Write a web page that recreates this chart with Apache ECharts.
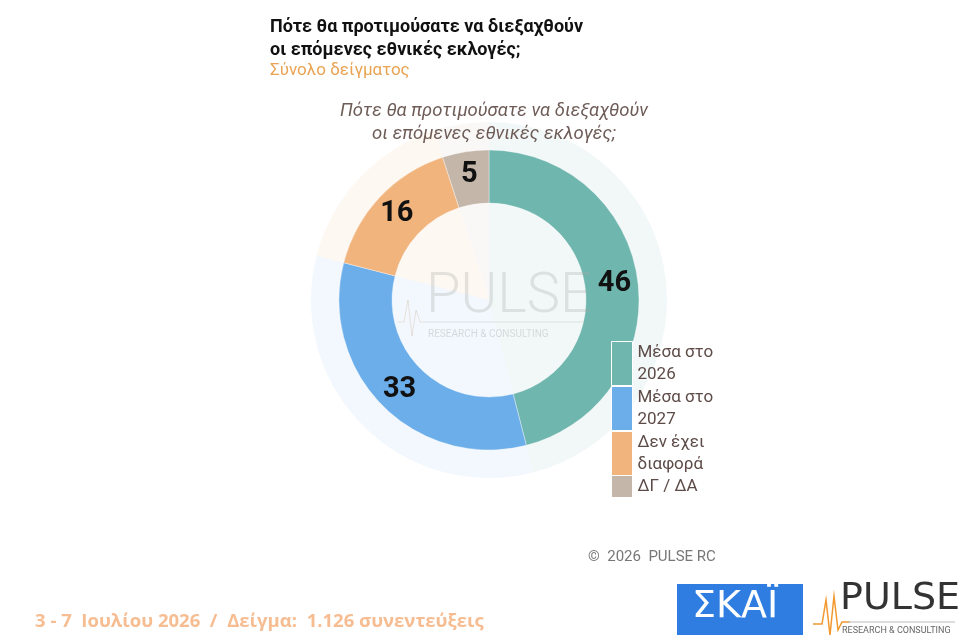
<!DOCTYPE html>
<html>
<head>
<meta charset="utf-8">
<script src="https://cdn.jsdelivr.net/npm/echarts@6/dist/echarts.min.js"></script>
<style>
  html, body { margin: 0; padding: 0; background: #fff; }
  #chart { width: 962px; height: 635px; }
</style>
</head>
<body>
<div id="chart"></div>
<script>
// answers and shares (%)
const categories = ['Μέσα στο\n2026', 'Μέσα στο\n2027', 'Δεν έχει\nδιαφορά', 'ΔΓ / ΔΑ'];
const values = [46, 33, 16, 5];
const colors = ['#6fb6ae', '#6caeea', '#f1b47c', '#c4b6a8'];

const font = 'Roboto, "Noto Sans", sans-serif';

const getPieData = () => categories.map((name, i) => ({
    name: name,
    value: values[i],
    itemStyle: { color: colors[i] }
}));

const legendText = { fontFamily: font, fontSize: 17, color: '#5d4b47', lineHeight: 22 };
const legendItem = n => ({ name: n, itemStyle: { opacity: 1, borderWidth: 1, borderColor: '#ffffff' } });

const getOption = () => {
    return {
        animation: false,
        title: [
            {
                text: 'Πότε θα προτιμούσατε να διεξαχθούν\nοι επόμενες εθνικές εκλογές;',
                left: 265, top: 11,
                textStyle: { fontFamily: font, fontSize: 18, fontWeight: 'bold', color: '#111', lineHeight: 23 }
            },
            {
                text: 'Σύνολο δείγματος',
                left: 265, top: 57,
                textStyle: { fontFamily: font, fontSize: 17, fontWeight: 'normal', color: '#e9a352' }
            },
            {
                text: 'Πότε θα προτιμούσατε να διεξαχθούν\nοι επόμενες εθνικές εκλογές;',
                left: 489, top: 95, textAlign: 'center',
                textStyle: { fontFamily: font, fontSize: 18.5, fontStyle: 'italic', fontWeight: 'normal', color: '#6e5c57', lineHeight: 23, align: 'center' }
            }
        ],
        legend: [
            {
                data: categories.slice(0, 3).map(legendItem),
                orient: 'vertical',
                left: 606, top: 336,
                itemWidth: 21, itemHeight: 44, itemGap: 0,
                icon: 'rect',
                selectedMode: false,
                textStyle: legendText
            },
            {
                data: categories.slice(3).map(legendItem),
                orient: 'vertical',
                left: 606, top: 470,
                itemWidth: 21, itemHeight: 22,
                icon: 'rect',
                selectedMode: false,
                textStyle: legendText
            }
        ],
        series: [
            {
                type: 'pie',
                z: 3,
                center: [489, 300],
                radius: [97, 150],
                startAngle: 90,
                silent: true,
                label: {
                    show: true,
                    position: 'inside',
                    formatter: '{c}',
                    fontFamily: font,
                    fontSize: 29,
                    fontWeight: 'bold',
                    color: '#111'
                },
                labelLine: { show: false },
                itemStyle: { borderColor: 'rgba(255,255,255,0.35)', borderWidth: 1 },
                data: getPieData()
            },
            {
                // pale halo behind the ring
                type: 'pie',
                z: 1,
                center: [489, 300],
                radius: [0, 178],
                startAngle: 90,
                silent: true,
                label: { show: false },
                labelLine: { show: false },
                itemStyle: { opacity: 0.09 },
                data: getPieData()
            }
        ],
        graphic: [
            // watermark
            {
                type: 'text', left: 426, top: 270, silent: true, z: 5,
                style: { text: 'PULSE', font: '300 56px ' + font, fill: 'rgba(170,170,170,0.3)' }
            },
            {
                type: 'line', silent: true, z: 5,
                shape: { x1: 425, y1: 322, x2: 585, y2: 322 },
                style: { stroke: 'rgba(170,170,170,0.3)', lineWidth: 1 }
            },
            {
                type: 'polyline', silent: true, z: 5,
                shape: { points: [[398, 322], [404, 322], [408, 300], [412, 336], [416, 310], [420, 322], [425, 322]] },
                style: { stroke: 'rgba(200,170,140,0.3)', lineWidth: 1, fill: null }
            },
            {
                type: 'text', left: 428, top: 329, silent: true, z: 5,
                style: { text: 'RESEARCH & CONSULTING', font: '10px ' + font, fill: 'rgba(170,170,170,0.4)' }
            },
            // copyright
            {
                type: 'text', left: 588, top: 550,
                style: { text: '©  2026  PULSE RC', font: '15px ' + font, fill: '#777' }
            },
            // footer
            {
                type: 'text', left: 35, top: 612,
                style: { text: '3 - 7  Ιουλίου 2026  /  Δείγμα:  1.126 συνεντεύξεις', font: 'bold 18.5px "Open Sans", ' + font, fill: '#f7bd92' }
            },
            // SKAI logo
            {
                type: 'rect', shape: { x: 677, y: 584, width: 126, height: 51 },
                style: { fill: '#2f7de1' }
            },
            {
                type: 'text', left: 692, top: 588,
                style: { text: 'ΣΚΑΪ', font: '38px "DejaVu Sans", sans-serif', fill: '#fff' }
            },
            // PULSE logo
            {
                type: 'polyline',
                shape: { points: [[813, 624], [822, 624], [826, 600], [830, 635], [834, 596], [838, 630], [842, 622], [850, 622]] },
                style: { stroke: '#f2982f', lineWidth: 1.5, fill: null }
            },
            {
                type: 'text', left: 840, top: 580,
                style: { text: 'PULSE', font: '38px "DejaVu Sans", sans-serif', fill: '#333' }
            },
            {
                type: 'line', shape: { x1: 848, y1: 622, x2: 955, y2: 622 },
                style: { stroke: '#bbb', lineWidth: 1 }
            },
            {
                type: 'text', left: 842, top: 626,
                style: { text: 'RESEARCH & CONSULTING', font: '9px ' + font, fill: '#666' }
            }
        ]
    };
};

const initChart = () => {
    const chart = echarts.init(document.getElementById('chart'));
    chart.setOption(getOption());
};

window.addEventListener('load', () => {
    initChart();
});
</script>
</body>
</html>
